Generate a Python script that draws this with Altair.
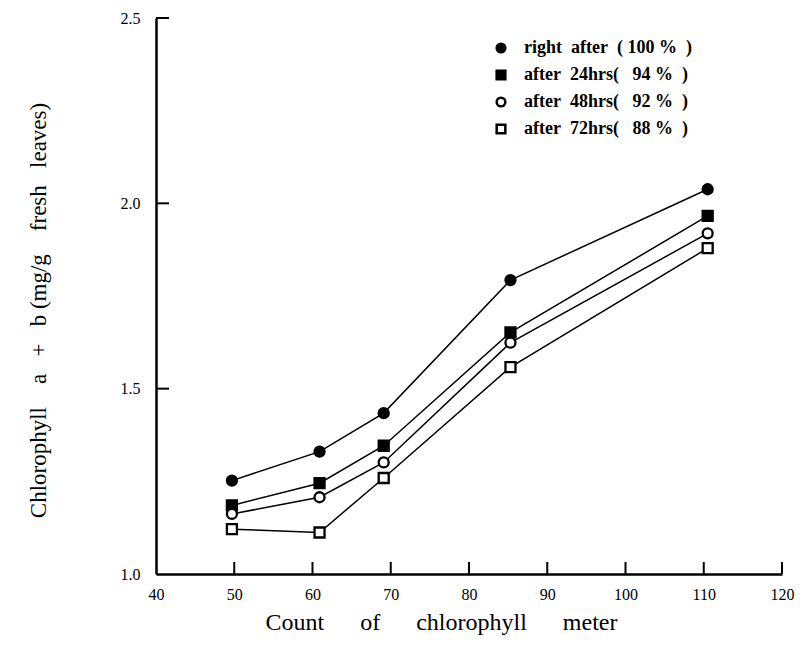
import altair as alt
import pandas as pd

# ---- data ----
meter = [49.7, 60.9, 69.1, 85.3, 110.5]
right_after = [1.252, 1.330, 1.434, 1.793, 2.038]
after_24 = [1.185, 1.245, 1.346, 1.652, 1.966]
after_48 = [1.162, 1.207, 1.301, 1.624, 1.919]
after_72 = [1.121, 1.112, 1.259, 1.558, 1.879]
series_names = ["right\u00a0 after\u00a0 (\u00a0100\u00a0%\u00a0\u00a0)",
                "after\u00a0 24hrs(\u00a0\u00a0 94\u00a0%\u00a0\u00a0)",
                "after\u00a0 48hrs(\u00a0\u00a0 92\u00a0%\u00a0\u00a0)",
                "after\u00a0 72hrs(\u00a0\u00a0 88\u00a0%\u00a0\u00a0)"]
x_labels = [40, 50, 60, 70, 80, 90, 100, 110, 120]
x_ticks = [50, 60, 70, 80, 90, 100, 110, 120]
y_labels = [1.0, 1.5, 2.0, 2.5]
y_ticks = [1.5, 2.0, 2.5]

rows = []
for name, vals in zip(series_names, [right_after, after_24, after_48, after_72]):
    for m, v in zip(meter, vals):
        rows.append({"meter": m, "chl": v, "series": name})
df = pd.DataFrame(rows)

W, H = 626, 556
FONT = "Liberation Serif"
SP = "\u00a0\u00a0\u00a0\u00a0\u00a0\u00a0"

xscale = alt.Scale(domain=[40, 120], nice=False, zero=False)
yscale = alt.Scale(domain=[1.0, 2.5], nice=False, zero=False)

x_axis = alt.Axis(values=x_labels, ticks=False, grid=False, domainColor="black",
                  domainWidth=2.5, labelFont=FONT, labelFontSize=16, labelColor="black",
                  labelPadding=12, labelFlush=False,
                  title="Count" + SP + "of" + SP + "chlorophyll" + SP + "meter",
                  titleFont=FONT, titleFontSize=24, titleFontWeight="normal",
                  titleColor="black", titleX=285, titleY=48, titleBaseline="middle")
y_axis = alt.Axis(values=y_labels, format=".1f", ticks=False, grid=False,
                  domainColor="black", domainWidth=2.5, labelFont=FONT,
                  labelFontSize=16, labelColor="black", labelPadding=16,
                  labelFlush=False,
                  title="Chlorophyll\u00a0\u00a0\u00a0 a\u00a0\u00a0 +\u00a0\u00a0 b\u00a0(mg/g\u00a0\u00a0\u00a0 fresh\u00a0\u00a0 leaves)",
                  titleFont=FONT, titleFontSize=23, titleFontWeight="normal",
                  titleColor="black", titleX=-118, titleY=292, titleBaseline="middle",
                  titleAngle=270)

X = alt.X("meter:Q", scale=xscale, axis=x_axis)
Y = alt.Y("chl:Q", scale=yscale, axis=y_axis)

base = alt.Chart(df).encode(x=X, y=Y)

lines = base.mark_line(color="black", strokeWidth=1.5).encode(detail="series:N")

leg = alt.Legend(title=None, symbolStrokeWidth=2.5, symbolSize=75, labelLimit=400)

points = base.mark_point(filled=True, strokeWidth=2.3, size=100, opacity=1).encode(
    shape=alt.Shape("series:N",
                    scale=alt.Scale(domain=series_names,
                                    range=["circle", "square", "circle", "square"]),
                    legend=leg),
    fill=alt.Fill("series:N",
                  scale=alt.Scale(domain=series_names,
                                  range=["black", "black", "white", "white"]),
                  legend=leg),
    stroke=alt.Stroke("series:N",
                      scale=alt.Scale(domain=series_names,
                                      range=["black", "black", "black", "black"]),
                      legend=leg),
)

xt = alt.Chart(pd.DataFrame({"meter": x_ticks})).mark_rule(
    color="black", strokeWidth=2).encode(
    x=X, y=alt.value(H), y2=alt.value(H - 12))
yt = alt.Chart(pd.DataFrame({"chl": y_ticks})).mark_rule(
    color="black", strokeWidth=2).encode(
    y=Y, x=alt.value(0), x2=alt.value(13))

chart = alt.layer(xt, yt, lines, points).properties(
    width=W, height=H,
    autosize=alt.AutoSizeParams(type="none"),
    padding={"left": 148, "top": 10, "right": 12, "bottom": 62},
).configure_view(stroke=None).configure_legend(
    orient="none", legendX=336, legendY=21, padding=0,
    labelFont=FONT, labelFontSize=18, labelFontWeight="bold", labelColor="black",
    labelOffset=14, rowPadding=7, symbolStrokeWidth=2.5, symbolSize=75,
    labelLimit=400,
)

chart.save("out.html", embed_options={"renderer": "svg", "actions": False})
